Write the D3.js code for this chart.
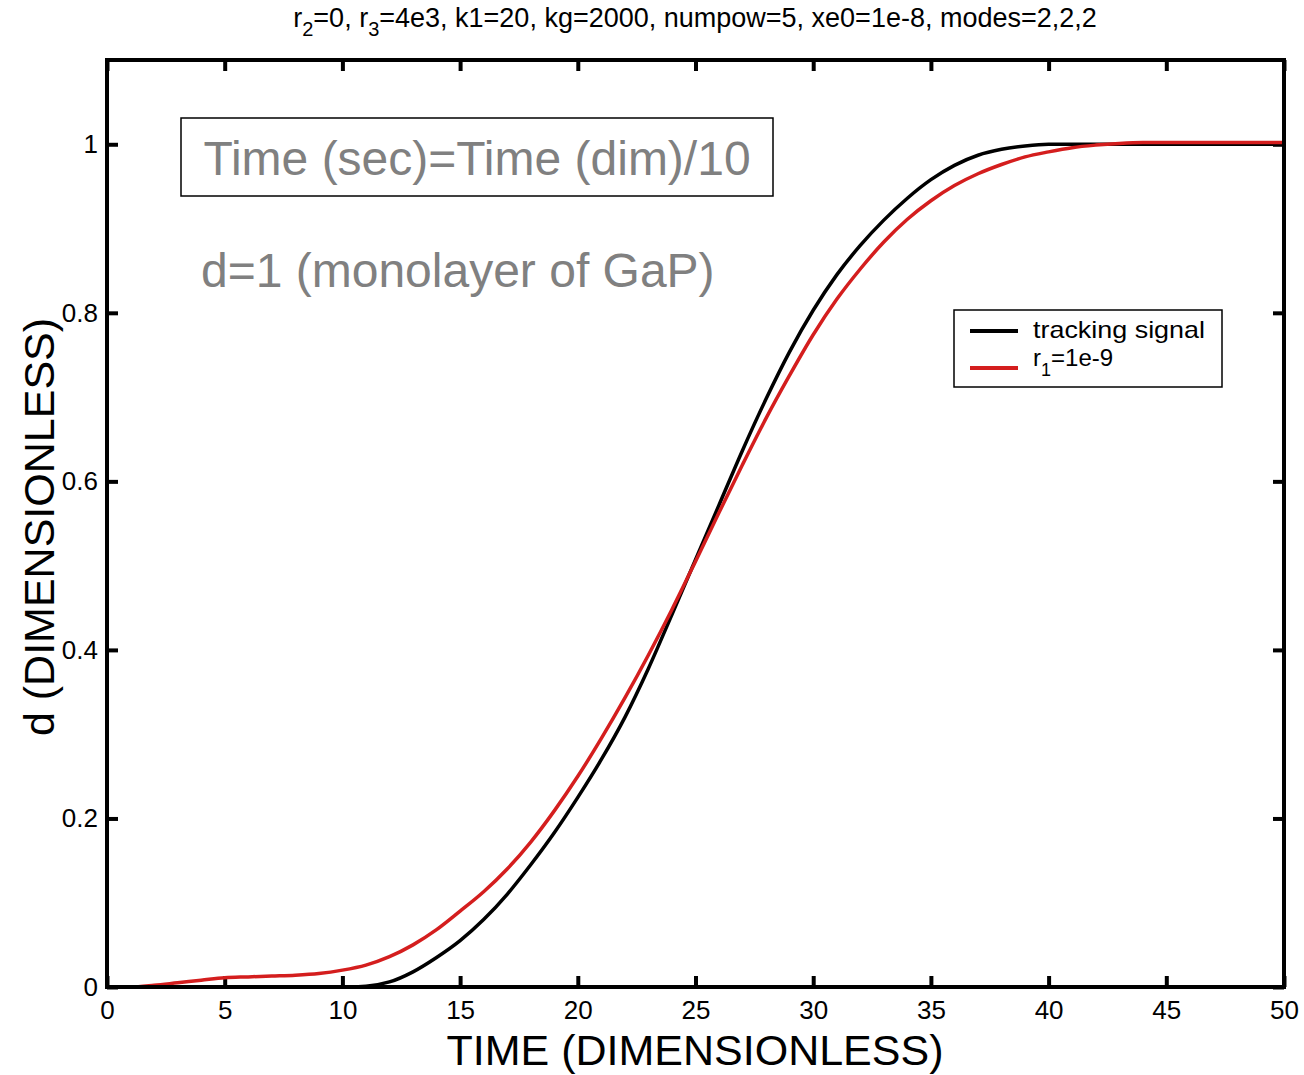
<!DOCTYPE html>
<html><head><meta charset="utf-8">
<script src="https://cdn.jsdelivr.net/npm/d3@7"></script>
<style>body{margin:0;background:#fff}svg{display:block;font-family:"Liberation Sans",Arial,sans-serif}</style>
</head><body>
<script>
const timeVals = [0,1,2,3,4,5,6,7,8,9,10,11,12,13,14,15,16,17,18,19,20,21,22,23,24,25,26,27,28,29,30,31,32,33,34,35,36,37,38,39,40,41,42,43,44,45,46,47,48,49,50];
const trackingSignal = [0,0,0,0,0,0,0,0,0,0,0,0.001,0.006,0.018,0.035,0.055,0.08,0.11,0.145,0.183,0.225,0.27,0.32,0.378,0.442,0.507,0.572,0.637,0.698,0.754,0.803,0.845,0.88,0.91,0.936,0.958,0.975,0.987,0.994,0.998,1,1,1,1,1,1,1,1,1,1,1];
const r1Series = [0,0,0.002,0.005,0.008,0.011,0.012,0.013,0.014,0.016,0.02,0.026,0.036,0.05,0.068,0.09,0.113,0.14,0.172,0.209,0.25,0.295,0.343,0.394,0.448,0.505,0.563,0.62,0.675,0.726,0.774,0.816,0.852,0.884,0.911,0.933,0.951,0.965,0.976,0.985,0.991,0.996,0.999,1.001,1.002,1.002,1.002,1.002,1.002,1.002,1.002];
const xTicks = [0,5,10,15,20,25,30,35,40,45,50];
const yTicks = [0,0.2,0.4,0.6,0.8,1];
const seriesNames = ["tracking signal","r1=1e-9"];

const W=1304,H=1075;
const svg=d3.select("body").append("svg").attr("width",W).attr("height",H);
const x=d3.scaleLinear().domain([0,50]).range([107,1284]);
const y=d3.scaleLinear().domain([0,1.1]).range([987,60]);

// title
const title=svg.append("text").attr("x",695).attr("y",27).attr("text-anchor","middle").attr("font-size",27).attr("fill","#000");
title.append("tspan").text("r");
title.append("tspan").attr("dy",9).attr("font-size",20).text("2");
title.append("tspan").attr("dy",-9).text("=0, r");
title.append("tspan").attr("dy",9).attr("font-size",20).text("3");
title.append("tspan").attr("dy",-9).text("=4e3, k1=20, kg=2000, numpow=5, xe0=1e-8, modes=2,2,2");

// axes with inward ticks
const fmt=d=>d3.format("~g")(d);
const axB=svg.append("g").attr("transform","translate(0,987)").call(d3.axisBottom(x).tickValues(xTicks).tickSizeInner(-11).tickSizeOuter(0).tickPadding(14).tickFormat(fmt));
const axT=svg.append("g").attr("transform","translate(0,60)").call(d3.axisTop(x).tickValues(xTicks).tickSizeInner(-11).tickSizeOuter(0).tickFormat(""));
const axL=svg.append("g").attr("transform","translate(107,0)").call(d3.axisLeft(y).tickValues(yTicks).tickSizeInner(-11).tickSizeOuter(0).tickPadding(9).tickFormat(fmt));
const axR=svg.append("g").attr("transform","translate(1284,0)").call(d3.axisRight(y).tickValues(yTicks).tickSizeInner(-11).tickSizeOuter(0).tickFormat(""));
[axB,axT,axL,axR].forEach(g=>{g.select(".domain").remove();g.selectAll(".tick line").attr("stroke","#000").attr("stroke-width",4);g.selectAll("text").attr("font-size",26).attr("fill","#000").attr("font-family","Liberation Sans, Arial, sans-serif");});

// curves
const line=d3.line().x((d,i)=>x(timeVals[i])).y(d=>y(d)).curve(d3.curveMonotoneX);
svg.append("path").datum(trackingSignal).attr("d",line).attr("fill","none").attr("stroke","#000").attr("stroke-width",3.5);
svg.append("path").datum(r1Series).attr("d",line).attr("fill","none").attr("stroke","#d41e1e").attr("stroke-width",3.5);

// frame
svg.append("rect").attr("x",107).attr("y",60).attr("width",1284-107).attr("height",987-60).attr("fill","none").attr("stroke","#000").attr("stroke-width",4);

// axis labels
svg.append("text").attr("x",695).attr("y",1065).attr("text-anchor","middle").attr("font-size",43).text("TIME (DIMENSIONLESS)");
svg.append("text").attr("transform","translate(54,527) rotate(-90)").attr("text-anchor","middle").attr("font-size",43).text("d (DIMENSIONLESS)");

// annotations
svg.append("rect").attr("x",181).attr("y",118).attr("width",592).attr("height",78).attr("fill","#fff").attr("stroke","#000").attr("stroke-width",1.5);
svg.append("text").attr("x",477).attr("y",175).attr("text-anchor","middle").attr("font-size",48).attr("fill","#808080").text("Time (sec)=Time (dim)/10");
svg.append("text").attr("x",201).attr("y",287).attr("font-size",48).attr("fill","#808080").text("d=1 (monolayer of GaP)");

// legend
const lg=svg.append("g");
lg.append("rect").attr("x",954).attr("y",310).attr("width",268).attr("height",77).attr("fill","#fff").attr("stroke","#000").attr("stroke-width",1.5);
lg.append("line").attr("x1",970).attr("x2",1018).attr("y1",331).attr("y2",331).attr("stroke","#000").attr("stroke-width",4);
lg.append("line").attr("x1",970).attr("x2",1018).attr("y1",368).attr("y2",368).attr("stroke","#d41e1e").attr("stroke-width",4);
lg.append("text").attr("x",1033).attr("y",338).attr("font-size",24).attr("textLength",172).attr("lengthAdjust","spacingAndGlyphs").text(seriesNames[0]);
const t2=lg.append("text").attr("x",1033).attr("y",366).attr("font-size",24);
t2.append("tspan").text("r");
t2.append("tspan").attr("dy",10).attr("font-size",18).text("1");
t2.append("tspan").attr("dy",-10).text("=1e-9");
</script>
</body></html>
